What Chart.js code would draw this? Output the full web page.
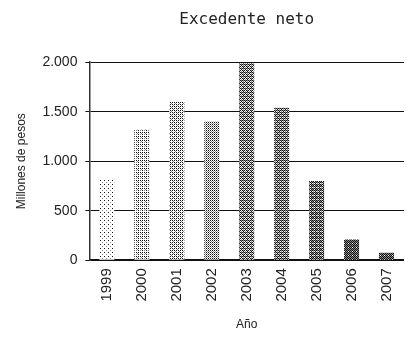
<!DOCTYPE html>
<html>
<head>
<meta charset="utf-8">
<script src="https://cdn.jsdelivr.net/npm/chart.js@4"></script>
<style>
  body { margin: 0; background: #fff; }
  canvas { display: block; }
</style>
</head>
<body>
<canvas id="chart-area" width="413" height="337"></canvas>
<script>
var years = ["1999", "2000", "2001", "2002", "2003", "2004", "2005", "2006", "2007"];
var excedente = [820, 1320, 1600, 1400, 1990, 1540, 800, 210, 75];
var yTicks = [0, 500, 1000, 1500, 2000];

// density of the fill pattern for each bar, light to dark
var shades = [0.12, 0.3, 0.4, 0.5, 0.7, 0.72, 0.82, 0.92, 0.95];

var bayer = [
  [0, 8, 2, 10],
  [12, 4, 14, 6],
  [3, 11, 1, 9],
  [15, 7, 13, 5]
];

function makePattern(d) {
  var c = document.createElement("canvas");
  c.width = 4; c.height = 4;
  var g = c.getContext("2d");
  g.fillStyle = "#fff";
  g.fillRect(0, 0, 4, 4);
  for (var y = 0; y < 4; y++) {
    for (var x = 0; x < 4; x++) {
      var t = (bayer[y][x] + 0.5) / 16;
      if (t < d) {
        g.fillStyle = (t < d * 0.55) ? "#111" : "#8a8a8a";
        g.fillRect(x, y, 1, 1);
      }
    }
  }
  return g.createPattern(c, "repeat");
}

window.onload = function() {
  var ctx = document.getElementById("chart-area").getContext("2d");
  var fills = shades.map(makePattern);

  var config = {
    type: 'bar',
    data: {
      labels: years,
      datasets: [{
        data: excedente,
        backgroundColor: fills,
        borderWidth: 0,
        barPercentage: 0.43,
        categoryPercentage: 1.0
      }]
    },
    options: {
      responsive: false,
      animation: false,
      layout: { padding: { left: 10, right: 3, top: 4, bottom: 1 } },
      plugins: {
        legend: { display: false },
        tooltip: { enabled: false },
        title: {
          display: true,
          text: 'Excedente neto',
          fullSize: false,
          color: '#222',
          font: { family: 'DejaVu Sans Mono', size: 16, weight: 'normal' },
          padding: { top: 6, bottom: 33 }
        }
      },
      scales: {
        x: {
          grid: { display: false, drawTicks: false },
          border: { color: '#111', width: 1.5 },
          ticks: {
            color: '#222',
            minRotation: 90,
            maxRotation: 90,
            padding: 8,
            font: { family: 'Liberation Sans', size: 15 }
          },
          title: {
            display: true,
            text: 'Año',
            color: '#222',
            font: { family: 'Liberation Sans', size: 12 },
            padding: { top: 8 }
          }
        },
        y: {
          min: 0,
          max: 2000,
          afterBuildTicks: function(axis) {
            axis.ticks = yTicks.map(function(v) { return { value: v }; });
          },
          grid: { color: '#111', lineWidth: 1, tickLength: 4 },
          border: { color: '#333', width: 1.5 },
          ticks: {
            color: '#222',
            padding: 8,
            font: { family: 'Liberation Sans', size: 14 },
            callback: function(v) { return v.toLocaleString('de-DE'); }
          },
          title: {
            display: true,
            text: 'Millones de pesos',
            color: '#222',
            font: { family: 'Liberation Sans', size: 12 },
            padding: { bottom: 6 }
          }
        }
      }
    }
  };

  window.myBar = new Chart(ctx, config);
};
</script>
</body>
</html>
